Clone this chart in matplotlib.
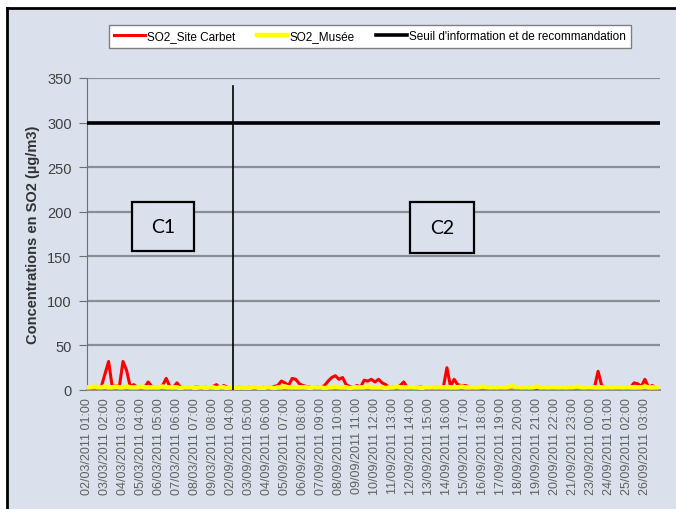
import numpy as np
import matplotlib
matplotlib.use('Agg')
import matplotlib.pyplot as plt
from matplotlib.patches import Rectangle
from matplotlib.lines import Line2D

# hourly axis, one sample every 5 hours
step = 5

so2_carbet = [
    3, 2, 3, 2, 4, 18, 32, 4, 5, 4, 32, 22, 4, 6, 3, 4, 3, 9, 4, 3,
    3, 5, 13, 4, 3, 8, 3, 2, 3, 2, 3, 4, 2, 3, 2, 4, 6, 2, 5, 3,
    2, 1, 3, 3, 2, 3, 2, 1, 2, 3, 2, 3, 4, 5, 10, 8, 5, 13, 12, 7,
    5, 4, 3, 2, 4, 3, 5, 10, 14, 16, 12, 14, 6, 4, 3, 5, 3, 11, 10, 12,
    9, 12, 8, 6, 3, 4, 3, 5, 9, 3, 2, 3, 4, 3, 2, 3, 2, 3, 2, 3,
    25, 4, 12, 6, 5, 5, 4, 2, 3, 2, 3, 2, 3, 2, 3, 2, 3, 2, 4, 2,
    2, 3, 2, 3, 2, 2, 3, 2, 3, 2, 2, 3, 2, 3, 2, 2, 3, 2, 3, 2,
    2, 3, 21, 5, 3, 2, 3, 2, 2, 3, 2, 3, 8, 7, 4, 12, 3, 5, 3, 2,
]

so2_musee = [
    3, 3, 4, 3, 3, 4, 3, 3, 4, 3, 3, 4, 3, 3, 3, 4, 3, 3, 3, 3,
    3, 4, 3, 3, 3, 3, 2, 3, 3, 3, 2, 3, 3, 2, 3, 3, 2, 3, 3, 2,
    3, 2, 2, 3, 2, 2, 3, 3, 2, 2, 3, 3, 2, 3, 3, 4, 3, 3, 3, 3,
    3, 3, 2, 3, 3, 3, 2, 3, 3, 4, 3, 3, 3, 2, 3, 3, 3, 3, 4, 3,
    3, 3, 3, 2, 3, 3, 4, 3, 3, 3, 3, 3, 3, 2, 3, 3, 3, 3, 3, 3,
    3, 3, 3, 3, 4, 3, 3, 3, 3, 3, 4, 3, 3, 3, 3, 3, 3, 3, 5, 3,
    3, 3, 3, 3, 3, 4, 3, 3, 3, 3, 3, 3, 3, 3, 3, 3, 4, 3, 3, 3,
    3, 3, 3, 3, 3, 3, 3, 3, 3, 3, 3, 3, 3, 3, 3, 4, 3, 3, 3, 3,
]

seuil = 300

tick_labels = [
    '02/03/2011 01:00', '03/03/2011 02:00', '04/03/2011 03:00', '05/03/2011 04:00',
    '06/03/2011 05:00', '07/03/2011 06:00', '08/03/2011 07:00', '09/03/2011 08:00',
    '02/09/2011 04:00', '03/09/2011 05:00', '04/09/2011 06:00', '05/09/2011 07:00',
    '06/09/2011 08:00', '07/09/2011 09:00', '08/09/2011 10:00', '09/09/2011 11:00',
    '10/09/2011 12:00', '11/09/2011 13:00', '12/09/2011 14:00', '13/09/2011 15:00',
    '14/09/2011 16:00', '15/09/2011 17:00', '16/09/2011 18:00', '17/09/2011 19:00',
    '18/09/2011 20:00', '19/09/2011 21:00', '20/09/2011 22:00', '21/09/2011 23:00',
    '23/09/2011 00:00', '24/09/2011 01:00', '25/09/2011 02:00', '26/09/2011 03:00',
]

bg = '#dae1ec'
W, H = 676, 510

fig = plt.figure(figsize=(W / 100, H / 100), dpi=100)
fig.patch.set_facecolor('white')
# chart area with a black edge on top and left only
fig.patches.append(Rectangle((7 / W, 0), 1, 1 - 9 / H, transform=fig.transFigure,
                             facecolor=bg, edgecolor='none', zorder=-1))
fig.lines.append(Line2D([7 / W, 1], [1 - 9 / H, 1 - 9 / H], transform=fig.transFigure,
                        color='black', linewidth=2))
fig.lines.append(Line2D([7 / W, 7 / W], [0, 1 - 9 / H], transform=fig.transFigure,
                        color='black', linewidth=2))

ax = fig.add_axes([87 / W, 1 - 391 / H, (660 - 87) / W, (391 - 79) / H])
ax.set_facecolor('none')

hours = np.arange(len(so2_carbet)) * step
ax.plot(hours, so2_carbet, color='#ff0000', linewidth=2.2, zorder=3, label='SO2_Site Carbet')
ax.plot(hours, so2_musee, color='#ffff00', linewidth=3.2, zorder=4, label='SO2_Musée')
ax.axhline(seuil, color='black', linewidth=2.6, zorder=3, label="Seuil d'information et de recommandation")

# separation between the two campaigns
ax.plot([203, 203], [0, 341], color='black', linewidth=1.2, zorder=5)

ax.set_xlim(0, 796)
ax.set_ylim(0, 350)
ax.set_yticks(range(0, 351, 50))
ax.set_xticks(np.arange(len(tick_labels)) * 25)
ax.set_xticklabels(tick_labels, rotation=90, fontsize=9, color='#606060', family='Liberation Sans')
for t in ax.get_yticklabels():
    t.set_fontsize(10.5)
    t.set_color('#404040')
    t.set_family('Liberation Sans')

ax.grid(axis='y', color='#8a8f96', linewidth=1.6, zorder=1)
ax.set_axisbelow(True)
for s in ['top', 'right']:
    ax.spines[s].set_visible(False)
ax.spines['left'].set_color('#707070')
ax.spines['bottom'].set_color('#8a8f96')
ax.spines['bottom'].set_linewidth(1.4)
ax.tick_params(axis='y', length=6, color='#707070', pad=5)
ax.tick_params(axis='x', length=0, pad=5)

ax.set_ylabel('Concentrations en SO2 (µg/m3)', fontsize=10.5, fontweight='bold', color='#333333',
              family='Liberation Sans', labelpad=5)

# campaign boxes
for x0, x1, y0, y1, name in [(132.3, 193.7, 252.3, 202.7, 'C1'), (410, 474, 254, 202.7, 'C2')]:
    fx0 = (x0 - 87) / 573
    fx1 = (x1 - 87) / 573
    fy0 = (391 - y0) / 312
    fy1 = (391 - y1) / 312
    ax.add_patch(Rectangle((fx0, fy0), fx1 - fx0, fy1 - fy0, transform=ax.transAxes,
                           facecolor=bg, edgecolor='black', linewidth=1.6, zorder=6))
    ax.text((fx0 + fx1) / 2, (fy0 + fy1) / 2, name, transform=ax.transAxes, ha='center',
            va='center', fontsize=14, family='Lato', color='black', zorder=7)

leg = fig.legend(loc='center', bbox_to_anchor=(370 / W, 1 - 37.5 / H), ncol=3, frameon=True,
                 fancybox=False, edgecolor='#808080', facecolor='white', framealpha=1,
                 prop={'family': 'Liberation Sans', 'size': 8.5},
                 handlelength=2.6, handletextpad=0.2, columnspacing=1.8, borderpad=0.45)
leg.get_frame().set_linewidth(1.0)

fig.savefig('out.png', dpi=100)
